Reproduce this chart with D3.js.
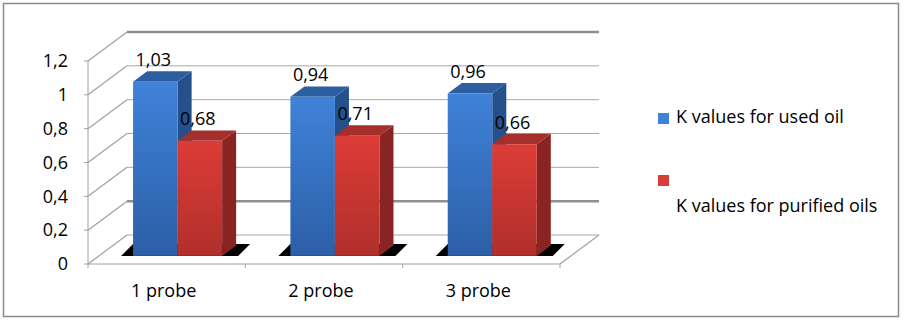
<!DOCTYPE html>
<html>
<head>
<meta charset="utf-8">
<script src="https://cdn.jsdelivr.net/npm/d3@7"></script>
<style>
  body { margin: 0; background: #fff; }
  text { font-family: "Open Sans", "Noto Sans", sans-serif; fill: #000; }
</style>
</head>
<body>
<div id="chart"></div>
<script>
// Data
const categories = ["1 probe", "2 probe", "3 probe"];
const seriesNames = ["K values for used oil", "K values for purified oils"];
const usedOil = [1.03, 0.94, 0.96];
const purifiedOil = [0.68, 0.71, 0.66];
const yTicks = [0, 0.2, 0.4, 0.6, 0.8, 1, 1.2];

const dimensions = {
  width: 903,
  height: 323,
  plotLeft: 88,
  plotRight: 560,
  plotBottom: 264,
  plotTop: 61,
  depthX: 39,
  depthY: 29,
};
const barDepth0 = 0.28;
const barDepth1 = 0.64;
const fontSize = "18px";

const colors = [
  { top: "#2d5e9f", side: "#24508c", light: "#3f82d9", dark: "#2c5fa6" },
  { top: "#a52f2b", side: "#8a2422", light: "#dc3c37", dark: "#b02f2b" },
];

const locale = d3.formatLocale({
  decimal: ",",
  thousands: " ",
  grouping: [3],
  currency: ["", ""],
});
const tickFormat = locale.format("~g");
const labelFormat = locale.format(".2f");

const data = categories.map((c, i) => ({
  category: c,
  values: [usedOil[i], purifiedOil[i]],
}));

// Canvas
const svg = d3
  .select("#chart")
  .append("svg")
  .attr("width", dimensions.width)
  .attr("height", dimensions.height);

const defs = svg.append("defs");
colors.forEach((c, i) => {
  const g = defs
    .append("linearGradient")
    .attr("id", "front-" + i)
    .attr("x1", 0)
    .attr("y1", 0)
    .attr("x2", 0)
    .attr("y2", 1);
  g.append("stop").attr("offset", "0%").attr("stop-color", c.light);
  g.append("stop").attr("offset", "100%").attr("stop-color", c.dark);
});

svg
  .append("rect")
  .attr("x", 3.5)
  .attr("y", 3.5)
  .attr("width", 895)
  .attr("height", 313)
  .attr("fill", "#fff")
  .attr("stroke", "#8a8a8a")
  .attr("stroke-width", 1.5);

// Scales
const yScale = d3
  .scaleLinear()
  .domain([0, 1.2])
  .range([dimensions.plotBottom, dimensions.plotTop]);

const xScale = d3
  .scaleBand()
  .domain(categories)
  .range([dimensions.plotLeft, dimensions.plotRight]);

const groupScale = d3
  .scaleBand()
  .domain(categories)
  .range([dimensions.plotLeft, dimensions.plotRight])
  .paddingInner(0.434)
  .paddingOuter(0.217);

const seriesScale = d3
  .scaleBand()
  .domain([0, 1])
  .range([0, groupScale.bandwidth()]);

const DX = dimensions.depthX;
const DY = dimensions.depthY;
const x0 = dimensions.plotLeft;
const x1 = dimensions.plotRight;

// Walls and gridlines
const walls = svg.append("g");
yTicks.forEach((t) => {
  const y = yScale(t);
  const heavy = t === 0.2 || t === 1.2;
  walls
    .append("line")
    .attr("x1", x0 + DX)
    .attr("x2", x1 + DX)
    .attr("y1", y - DY)
    .attr("y2", y - DY)
    .attr("stroke", heavy ? "#8f8f8f" : "#a8a8a8")
    .attr("stroke-width", heavy ? 2.5 : 1);
  walls
    .append("line")
    .attr("x1", x0)
    .attr("y1", y)
    .attr("x2", x0 + DX)
    .attr("y2", y - DY)
    .attr("stroke", "#a0a0a0")
    .attr("stroke-width", 1.2);
});
// floor right edge
walls
  .append("line")
  .attr("x1", x1)
  .attr("y1", yScale(0))
  .attr("x2", x1 + DX)
  .attr("y2", yScale(0) - DY)
  .attr("stroke", "#a0a0a0")
  .attr("stroke-width", 1.2);

// Bars
const bars = svg.append("g");
data.forEach((d) => {
  const gx = groupScale(d.category);
  const fx = gx + DX * barDepth0;
  const fy = yScale(0) - DY * barDepth0;
  const bdx = DX * (barDepth1 - barDepth0);
  const bdy = DY * (barDepth1 - barDepth0);
  const gw = groupScale.bandwidth();

  // dark floor shadow under the bar group
  bars
    .append("path")
    .attr(
      "d",
      d3.line()([
        [fx - 12, fy],
        [fx + gw + 16, fy],
        [fx + gw + 28, fy - 12],
        [fx, fy - 12],
      ]) + "Z"
    )
    .attr("fill", "#000");

  d.values.forEach((v, s) => {
    const bx = fx + seriesScale(s);
    const bw = seriesScale.bandwidth();
    const top = yScale(v) - DY * barDepth0;
    const c = colors[s];
    // side face
    bars
      .append("path")
      .attr(
        "d",
        d3.line()([
          [bx + bw, top],
          [bx + bw + bdx, top - bdy],
          [bx + bw + bdx, fy - bdy],
          [bx + bw, fy],
        ]) + "Z"
      )
      .attr("fill", c.side);
    // top face
    bars
      .append("path")
      .attr(
        "d",
        d3.line()([
          [bx, top],
          [bx + bdx, top - bdy],
          [bx + bw + bdx, top - bdy],
          [bx + bw, top],
        ]) + "Z"
      )
      .attr("fill", c.top);
    // front face
    bars
      .append("rect")
      .attr("x", bx)
      .attr("y", top)
      .attr("width", bw)
      .attr("height", fy - top)
      .attr("fill", `url(#front-${s})`);
  });

  // value labels
  d.values.forEach((v, s) => {
    const bx = fx + seriesScale(s);
    const bw = seriesScale.bandwidth();
    const top = yScale(v) - DY * barDepth0;
    bars
      .append("text")
      .attr("x", bx + bw / 2 - 2)
      .attr("y", top - bdy - 5)
      .attr("text-anchor", "middle")
      .style("font-size", fontSize)
      .text(labelFormat(v));
  });
});

// Front axes
const axes = svg.append("g");
axes
  .append("line")
  .attr("x1", x0)
  .attr("x2", x0)
  .attr("y1", yScale(0))
  .attr("y2", yScale(1.2))
  .attr("stroke", "#a0a0a0");
axes
  .append("line")
  .attr("x1", x0)
  .attr("x2", x1)
  .attr("y1", yScale(0))
  .attr("y2", yScale(0))
  .attr("stroke", "#a0a0a0");
yTicks.forEach((t) => {
  axes
    .append("line")
    .attr("x1", x0 - 4)
    .attr("x2", x0)
    .attr("y1", yScale(t))
    .attr("y2", yScale(t))
    .attr("stroke", "#a0a0a0");
  axes
    .append("text")
    .attr("x", 68)
    .attr("y", yScale(t))
    .attr("dy", "0.35em")
    .attr("text-anchor", "end")
    .style("font-size", fontSize)
    .text(tickFormat(t));
});
categories.concat([null]).forEach((c) => {
  const tx = c ? xScale(c) : x1;
  axes
    .append("line")
    .attr("x1", tx)
    .attr("x2", tx)
    .attr("y1", yScale(0))
    .attr("y2", yScale(0) + 4)
    .attr("stroke", "#a0a0a0");
});
categories.forEach((c) => {
  axes
    .append("text")
    .attr("x", xScale(c) + xScale.bandwidth() / 2 - 3)
    .attr("y", 297)
    .attr("text-anchor", "middle")
    .style("font-size", fontSize)
    .text(c);
});

// Legend
const legend = svg.append("g");
legend
  .append("rect")
  .attr("x", 658)
  .attr("y", 113)
  .attr("width", 11)
  .attr("height", 11)
  .attr("fill", colors[0].light);
legend
  .append("text")
  .attr("x", 676)
  .attr("y", 123)
  .style("font-size", fontSize)
  .text(seriesNames[0]);
legend
  .append("rect")
  .attr("x", 658)
  .attr("y", 175)
  .attr("width", 11)
  .attr("height", 11)
  .attr("fill", colors[1].light);
legend
  .append("text")
  .attr("x", 676)
  .attr("y", 212)
  .style("font-size", fontSize)
  .text(seriesNames[1]);
</script>
</body>
</html>
